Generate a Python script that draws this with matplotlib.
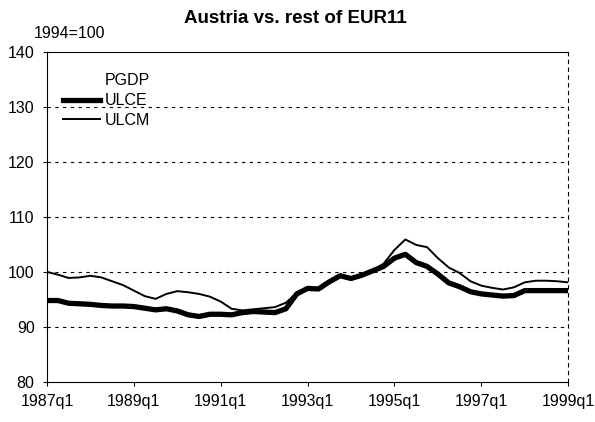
import matplotlib
matplotlib.use("Agg")
import matplotlib.pyplot as plt
from matplotlib.lines import Line2D

plt.rcParams['font.family'] = ['Liberation Sans', 'DejaVu Sans']

# quarterly, 1987q1 .. 1999q1 (1994=100)
quarters = [f"{y}q{q}" for y in range(1987, 2000) for q in range(1, 5)][:49]

ulcm = [100.0, 99.5, 98.9, 99.0, 99.3, 99.0, 98.3, 97.6, 96.6, 95.6,
        95.1, 96.0, 96.5, 96.3, 96.0, 95.5, 94.6, 93.3, 93.0, 93.2,
        93.4, 93.6, 94.4, 96.2, 97.1, 97.0, 98.3, 99.4, 99.0, 99.5,
        100.3, 101.5, 104.0, 105.9, 104.9, 104.5, 102.5, 100.8, 99.8, 98.3,
        97.5, 97.1, 96.8, 97.2, 98.1, 98.4, 98.4, 98.3, 98.1]

ulce = [94.8, 94.8, 94.3, 94.2, 94.1, 93.9, 93.8, 93.8, 93.7, 93.4,
        93.1, 93.3, 92.9, 92.2, 91.9, 92.3, 92.3, 92.2, 92.6, 92.8,
        92.7, 92.6, 93.3, 96.0, 97.0, 96.9, 98.2, 99.3, 98.8, 99.4,
        100.2, 101.0, 102.5, 103.2, 101.7, 101.0, 99.6, 98.0, 97.3, 96.4,
        96.0, 95.8, 95.6, 95.7, 96.6, 96.6, 96.6, 96.6, 96.6]

y_ticks = [80, 90, 100, 110, 120, 130, 140]

fig = plt.figure(figsize=(5.95, 4.22), dpi=100)
ax = fig.add_axes([0.079, 0.095, 0.876, 0.782])

x = list(range(len(quarters)))
ax.plot(x, ulce, color='black', lw=3.8, solid_capstyle='butt')
ax.plot(x, ulcm, color='black', lw=1.4)

ax.set_xlim(0, len(quarters) - 1)
ax.set_ylim(80, 140)
ax.set_yticks(y_ticks)
ax.set_xticks(x[::8])
ax.set_xticklabels(quarters[::8])
ax.tick_params(labelsize=11.5, length=3, direction='out', pad=6)

# gridlines
for v in y_ticks[1:-1]:
    ax.axhline(v, color='black', lw=0.8, ls=(0, (3, 4)), zorder=0)

ax.spines['top'].set_linestyle((0, (3, 1)))
ax.spines['right'].set_linestyle((0, (3, 4)))
ax.spines['top'].set_linewidth(0.8)
ax.spines['right'].set_linewidth(0.8)

handles = [Line2D([], [], color='none'),
           Line2D([], [], color='black', lw=3.8),
           Line2D([], [], color='black', lw=1.4)]
ax.legend(handles, ['PGDP', 'ULCE', 'ULCM'], loc='upper left',
          bbox_to_anchor=(0.031, 0.935), frameon=False, fontsize=11.5,
          borderpad=0, borderaxespad=0,
          handlelength=2.3, handletextpad=0.3, labelspacing=0.3)

fig.text(0.496, 0.955, 'Austria vs. rest of EUR11', ha='center', va='center',
         fontsize=13.5, fontweight='bold')
fig.text(0.056, 0.921, '1994=100', ha='left', va='center', fontsize=11.5)

fig.savefig('out.png', dpi=100)
